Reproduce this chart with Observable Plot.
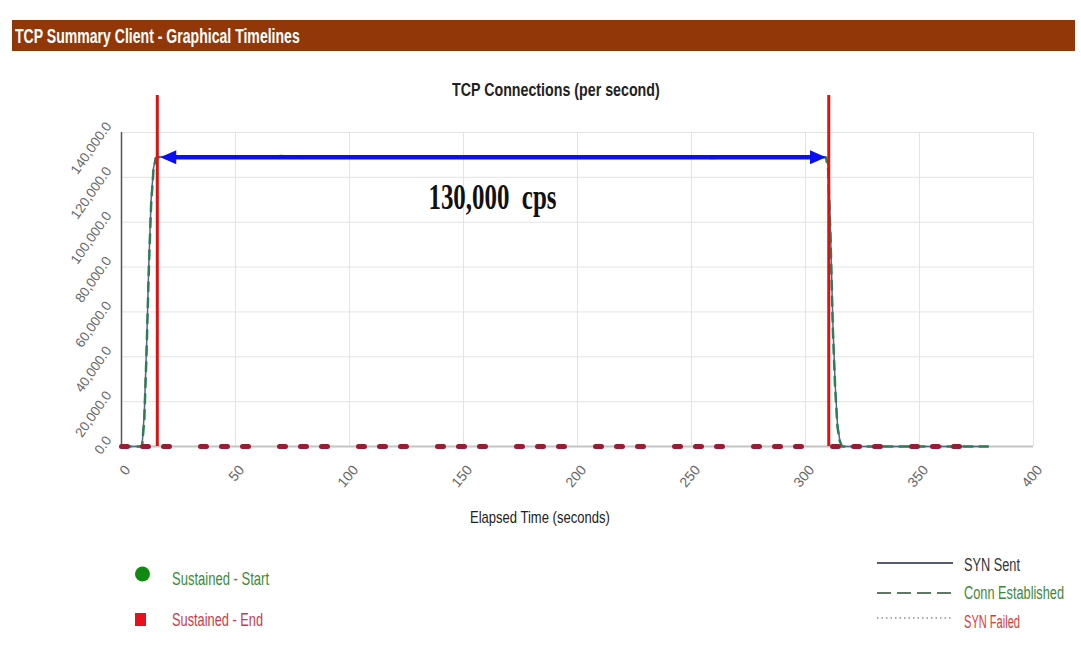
<!DOCTYPE html>
<html><head><meta charset="utf-8">
<script src="https://cdn.jsdelivr.net/npm/d3@7"></script>
<script src="https://cdn.jsdelivr.net/npm/@observablehq/plot@0.6"></script>
<style>
body{margin:0;background:#fff;width:1081px;height:648px;position:relative;overflow:hidden;font-family:"Liberation Sans",Arial,sans-serif;}
.lbl{position:absolute;white-space:pre;line-height:1;transform-origin:0 50%;}
</style></head><body>
<div style="position:absolute;left:12px;top:20px;width:1063px;height:31px;background:#923808"></div>
<div id="chart" style="position:absolute;left:0;top:0"></div>
<script>
// ---- data ----
const time = [0,5,9,10,11,12,13,14,15,16,
  20,30,40,50,60,70,80,90,100,110,120,130,140,150,160,170,180,190,200,210,220,230,240,250,260,270,280,290,300,
  305,309,310,311,312,313,314,315,316,320,330,340,350,360,370,380];
const synSent = [0,0,0,15000,45000,82000,110000,124000,128800,129200,
  129300,128900,129400,129000,129100,129600,128800,129300,129000,128900,129500,129100,128800,129200,129400,128900,129100,129300,128800,129000,129200,128900,129400,129100,128700,129300,129000,129200,128900,
  129100,129000,125000,95000,55000,28000,10000,3000,0,0,0,0,0,0,0,0];
const connEstablished = [0,0,0,12000,42000,80000,108000,123000,128500,129000,
  129000,128700,129300,128800,129000,129500,128600,129200,128900,128800,129400,129000,128700,129100,129300,128800,129000,129200,128700,128900,129100,128800,129300,129000,128600,129200,128900,129100,128800,
  129000,128900,123000,92000,52000,26000,9000,2500,0,0,0,0,0,0,0,0];
const synFailed = [0,0,0,0,0,0,0,0,0,0,
  0,0,0,0,0,0,0,0,0,0,0,0,0,0,0,0,0,0,0,0,0,0,0,0,0,0,0,0,0,
  0,0,0,0,0,0,0,0,0,0,0,0,0,0,0,0];
const xTicks = [0,50,100,150,200,250,300,350,400];
const yTicks = [0,20000,40000,60000,80000,100000,120000,140000];
const sustainedMarks = [15.7, 310.2];      // red vertical markers (seconds)
const sustainedTop = 156500;
const arrowLevel = 129000;
const arrowFrom = 17, arrowTo = 309;
const annotation = "130,000\u00a0\u00a0cps";
const annotationPos = {x: 162.7, y: 110800};

// ---- table ----
const rows = time.map((t, i) => ({t, sent: synSent[i], est: connEstablished[i], failed: synFailed[i]}));
const fmt = d3.format(",.1f");

const rightHead = {draw(ctx){ctx.moveTo(0,0);ctx.lineTo(-16,-7);ctx.lineTo(-16,7);ctx.closePath();}};
const leftHead = {draw(ctx){ctx.moveTo(0,0);ctx.lineTo(16,-7);ctx.lineTo(16,7);ctx.closePath();}};

const plot = Plot.plot({
  width: 1081, height: 540,
  marginTop: 132, marginBottom: 94, marginLeft: 121, marginRight: 48,
  x: {domain: [0, 400], axis: null},
  y: {domain: [0, 140000], axis: null},
  style: {fontFamily: "'Liberation Sans', Arial, sans-serif", background: "transparent"},
  marks: [
    Plot.ruleX(xTicks, {stroke: "#e3e3e3"}),
    Plot.ruleY(yTicks, {stroke: "#e3e3e3"}),
    Plot.ruleY([0], {stroke: "#c4c4c4", strokeWidth: 2}),
    Plot.ruleX([0], {stroke: "#555", strokeWidth: 1.5}),
    Plot.text(xTicks, {x: d => d, y: () => 0, text: d => String(d), rotate: -50, textAnchor: "end", dx: 6, dy: 21, fill: "#666", fontSize: 14}),
    Plot.text(yTicks, {x: () => 0, y: d => d, text: d => fmt(d), rotate: -55, textAnchor: "end", dx: -13, dy: -9, fill: "#666", fontSize: 13.5}),
    Plot.line(rows, {x: "t", y: "sent", stroke: "#56658f", strokeWidth: 1.5}),
    Plot.line(rows, {x: "t", y: "est", stroke: "#2e7d5a", strokeWidth: 2.5, strokeDasharray: "9,7"}),
    Plot.line(rows, {x: "t", y: "failed", stroke: "#9a1c33", strokeWidth: 5, strokeDasharray: "6,15,6,15,6,31"}),
    Plot.ruleX(sustainedMarks.map(x => ({x, y1: 0, y2: sustainedTop})), {x: "x", y1: "y1", y2: "y2", stroke: "#e01010", strokeWidth: 3}),
    Plot.link([{x1: arrowFrom + 4, x2: arrowTo - 4, y: arrowLevel}], {x1: "x1", x2: "x2", y1: "y", y2: "y", stroke: "#0a0ff0", strokeWidth: 4.5}),
    Plot.dot([{x: arrowTo, y: arrowLevel}], {x: "x", y: "y", symbol: rightHead, fill: "#0a0ff0", stroke: "none"}),
    Plot.dot([{x: arrowFrom, y: arrowLevel}], {x: "x", y: "y", symbol: leftHead, fill: "#0a0ff0", stroke: "none"}),
    Plot.text([annotationPos], {x: "x", y: "y", text: () => annotation, fontFamily: "'Liberation Serif', 'Times New Roman', serif", fontWeight: "bold", fontSize: 35, fill: "#111"})
  ]
});
document.getElementById("chart").appendChild(plot);
// fit annotation width
plot.querySelectorAll("text").forEach(t => {
  if (t.textContent === annotation) {
    t.setAttribute("textLength", 128);
    t.setAttribute("lengthAdjust", "spacingAndGlyphs");
  }
});

// ---- html labels ----
const cv = document.createElement("canvas").getContext("2d");
function label(text, left, width, cy, size, weight, color) {
  const fam = "'Liberation Sans', Arial, sans-serif";
  cv.font = `${weight} ${size}px ${fam}`;
  const w = cv.measureText(text).width;
  const d = document.createElement("div");
  d.className = "lbl";
  d.textContent = text;
  d.style.cssText += `left:${left}px;top:${cy - 0.52 * size}px;font:${weight} ${size}px ${fam};color:${color};transform:scaleX(${width / w});`;
  document.body.appendChild(d);
}
label("TCP Summary Client - Graphical Timelines", 15, 285, 35, 20, "bold", "#fff");
label("TCP Connections (per second)", 452, 208, 89, 18, "bold", "#222");
label("Elapsed Time (seconds)", 470, 140, 517, 17, "normal", "#222");
label("Sustained - Start", 172, 97, 578, 19, "normal", "#3a8a3a");
label("Sustained - End", 172, 91, 619, 19, "normal", "#c83a4c");
label("SYN Sent", 964, 56, 564, 18, "normal", "#333");
label("Conn Established", 964, 100, 592, 18, "normal", "#3a8a3a");
label("SYN Failed", 964, 56, 621, 18, "normal", "#d83a3a");

// legend swatches
const sw = d3.select("body").append("svg").attr("width", 1081).attr("height", 648)
  .style("position", "absolute").style("left", 0).style("top", 0).style("pointer-events", "none");
sw.append("circle").attr("cx", 142.5).attr("cy", 574).attr("r", 7.5).attr("fill", "#128a12");
sw.append("rect").attr("x", 135).attr("y", 613).attr("width", 11).attr("height", 13).attr("fill", "#e8101c");
sw.append("line").attr("x1", 877).attr("x2", 953).attr("y1", 563).attr("y2", 563).attr("stroke", "#555a70").attr("stroke-width", 2);
sw.append("line").attr("x1", 877).attr("x2", 953).attr("y1", 593).attr("y2", 593).attr("stroke", "#5a7a62").attr("stroke-width", 2).attr("stroke-dasharray", "14,6");
sw.append("line").attr("x1", 877).attr("x2", 953).attr("y1", 618).attr("y2", 618).attr("stroke", "#555").attr("stroke-width", 1.2).attr("stroke-dasharray", "1.5,3");
</script>
</body></html>
